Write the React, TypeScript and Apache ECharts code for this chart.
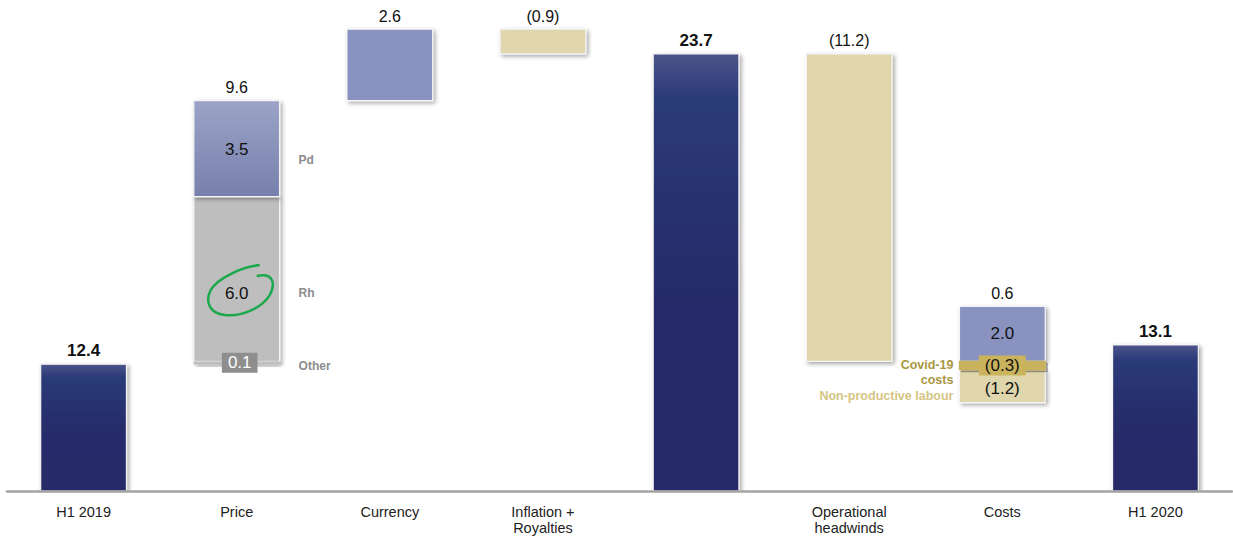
import React, { useEffect, useRef } from "react";
import * as echarts from "echarts";

// EBITDA bridge, H1 2019 -> H1 2020
const categories = [
  "H1 2019",
  "Price",
  "Currency",
  "Inflation +\nRoyalties",
  "",
  "Operational\nheadwinds",
  "Costs",
  "H1 2020",
];
const columnValues = [12.4, 9.6, 2.6, -0.9, 23.7, -11.2, 0.6, 13.1];
const totalColumns = [0, 4, 7];

const openingValue = 12.4;
const priceParts = [
  { name: "Other", value: 0.1 },
  { name: "Rh", value: 6.0 },
  { name: "Pd", value: 3.5 },
];
const currencyImpact = 2.6;
const inflationImpact = -0.9;
const subtotalValue = 23.7;
const operationalImpact = -11.2;
const costSavings = 2.0;
const costNegatives = [
  { name: "Covid-19\ncosts", value: -0.3 },
  { name: "Non-productive labour", value: -1.2 },
];
const closingValue = 13.1;

// Truncated value axis
const Y_MIN = 7.78;
const Y_MAX = 25.3;

const FONT = "'Liberation Sans', Arial, Helvetica, sans-serif";

const fmt = (v: number) =>
  v < 0 ? `(${Math.abs(v).toFixed(1)})` : v.toFixed(1);

type Seg = {
  cat: number;
  from: number;
  to: number;
  kind: "total" | "up" | "down" | "rh" | "pd" | "covid";
  inner?: string;
  innerChip?: string;
  innerDy?: number;
  side?: string;
  sideSide?: "left" | "right";
  sideColor?: string;
  sideDy?: number;
  ring?: boolean;
};

const segs: Seg[] = [];
segs.push({ cat: 0, from: Y_MIN, to: openingValue, kind: "total" });

let level = openingValue;
{
  const [other, rh, pd] = priceParts;
  const rhStart = level + other.value;
  segs.push({
    cat: 1, from: rhStart, to: rhStart + rh.value, kind: "rh",
    inner: rh.value.toFixed(1), innerDy: 14, side: rh.name, sideSide: "right",
    sideColor: "#8c8c8c", sideDy: 14, ring: true,
  });
  segs.push({
    cat: 1, from: level, to: rhStart, kind: "rh",
    inner: other.value.toFixed(1), innerChip: "#8e8e8e", side: other.name,
    sideSide: "right", sideColor: "#8c8c8c", sideDy: 3,
  });
  const pdStart = rhStart + rh.value;
  segs.push({
    cat: 1, from: pdStart, to: pdStart + pd.value, kind: "pd",
    inner: pd.value.toFixed(1), innerDy: 1, side: pd.name, sideSide: "right",
    sideColor: "#8c8c8c", sideDy: 11,
  });
  level = pdStart + pd.value;
}
segs.push({ cat: 2, from: level, to: level + currencyImpact, kind: "up" });
level += currencyImpact;
segs.push({ cat: 3, from: level, to: level + inflationImpact, kind: "down" });
level += inflationImpact;
segs.push({ cat: 4, from: Y_MIN, to: subtotalValue, kind: "total" });
level = subtotalValue;
segs.push({ cat: 5, from: level, to: level + operationalImpact, kind: "down" });
level += operationalImpact;
{
  segs.push({
    cat: 6, from: level, to: level + costSavings, kind: "up",
    inner: costSavings.toFixed(1), innerDy: 0,
  });
  const [covid, labour] = costNegatives;
  const labourStart = level + covid.value;
  segs.push({
    cat: 6, from: labourStart, to: labourStart + labour.value, kind: "down",
    inner: fmt(labour.value), innerDy: 2, side: labour.name, sideSide: "left",
    sideColor: "#d5c583", sideDy: 10,
  });
  segs.push({
    cat: 6, from: level, to: labourStart, kind: "covid",
    inner: fmt(covid.value), innerChip: "#c9b35d", side: covid.name,
    sideSide: "left", sideColor: "#a9973f", sideDy: 7,
  });
}
segs.push({ cat: 7, from: Y_MIN, to: closingValue, kind: "total" });

const columnTops = categories.map((_, i) =>
  Math.max(...segs.filter((s) => s.cat === i).map((s) => Math.max(s.from, s.to)))
);

const grad = (stops: [number, string][]) =>
  new echarts.graphic.LinearGradient(
    0, 0, 0, 1,
    stops.map(([offset, color]) => ({ offset, color }))
  );

const fillFor = (kind: Seg["kind"]) => {
  switch (kind) {
    case "total":
      return grad([
        [0, "#4c5489"],
        [0.1, "#2b3b7a"],
        [0.45, "#262d6c"],
        [1, "#252a66"],
      ]);
    case "pd":
      return grad([
        [0, "#9ba3c7"],
        [1, "#7780ac"],
      ]);
    case "up":
      return "#8a93bf";
    case "down":
      return "#dfd6ad";
    case "rh":
      return "#bebebe";
    case "covid":
      return "#c9b25c";
  }
};

const RING_PATH =
  "M23,-28 C5,-26 -19,-15 -26,-3 C-32,9 -27,20 -12,22 C5,24 25,15 33,2 C39,-9 37,-21 20,-17";

export default function App() {
  const ref = useRef<HTMLDivElement>(null);

  useEffect(() => {
    if (!ref.current) return;
    const chart = echarts.init(ref.current, null, { renderer: "svg" });

    const blockRender = (params: any, api: any) => {
      const s = segs[params.dataIndex];
      const p1 = api.coord([api.value(0), api.value(1)]);
      const p2 = api.coord([api.value(0), api.value(2)]);
      const bw = api.size([1, 0])[0] * 0.56;
      const top = Math.min(p1[1], p2[1]);
      const h = Math.abs(p1[1] - p2[1]);
      const isChipOnly = s.kind === "rh" && s.innerChip;
      return {
        type: "rect",
        shape: { x: p1[0] - bw / 2, y: top, width: bw, height: h },
        style: {
          fill: fillFor(s.kind),
          stroke: s.kind === "covid" ? "#c9b25c" : "#f4f4f4",
          lineWidth: isChipOnly ? 0 : 1.2,
          shadowBlur: s.kind === "covid" ? 0 : 4,
          shadowOffsetX: 2,
          shadowOffsetY: 2,
          shadowColor: "rgba(0,0,0,0.35)",
        },
      };
    };

    const labelRender = (params: any, api: any) => {
      const s = segs[params.dataIndex];
      const p1 = api.coord([api.value(0), api.value(1)]);
      const p2 = api.coord([api.value(0), api.value(2)]);
      const bw = api.size([1, 0])[0] * 0.56;
      const cx = p1[0];
      const cy = (p1[1] + p2[1]) / 2;
      const children: any[] = [];
      const chipOnGray = !!s.innerChip && s.kind === "rh";
      if (s.inner) {
        children.push({
          type: "text",
          x: cx + (chipOnGray ? 3 : 0),
          y: cy + (s.innerDy || 0),
          style: {
            text: s.inner,
            fill: chipOnGray ? "#ffffff" : "#111111",
            fontSize: 17,
            fontFamily: FONT,
            align: "center",
            verticalAlign: "middle",
            backgroundColor: s.innerChip,
            padding: s.innerChip ? (chipOnGray ? [2, 6, 1, 6] : [2, 6, 1, 6]) : 0,
          },
        });
      }
      if (s.ring) {
        children.push({
          type: "group",
          x: cx,
          y: cy + (s.innerDy || 0),
          children: [
            {
              type: "path",
              shape: { pathData: RING_PATH },
              style: { fill: "none", stroke: "#1ca84c", lineWidth: 2.5 },
            },
          ],
        });
      }
      if (s.side) {
        const right = s.sideSide === "right";
        children.push({
          type: "text",
          x: right ? cx + bw / 2 + 19 : cx - bw / 2 - 6,
          y: cy + (s.sideDy || 0),
          style: {
            text: s.side,
            fill: s.sideColor,
            fontSize: right ? 12 : 12.5,
            fontWeight: "bold",
            fontFamily: FONT,
            align: right ? "left" : "right",
            verticalAlign: "middle",
            lineHeight: 15,
          },
        });
      }
      return { type: "group", children };
    };

    const topRender = (params: any, api: any) => {
      const i = params.dataIndex;
      const p = api.coord([api.value(0), api.value(1)]);
      const bold = totalColumns.includes(i);
      return {
        type: "text",
        x: p[0],
        y: p[1] - 5,
        style: {
          text: fmt(columnValues[i]),
          fill: "#111111",
          fontSize: bold ? 17 : 16,
          fontWeight: bold ? "bold" : "normal",
          fontFamily: FONT,
          align: "center",
          verticalAlign: "bottom",
        },
      };
    };

    chart.setOption({
      animation: false,
      grid: { left: 7, right: 1, top: 10, bottom: 49, containLabel: false },
      xAxis: {
        type: "category",
        data: categories,
        boundaryGap: true,
        axisTick: { show: false },
        axisLine: { lineStyle: { color: "#a3a3a3", width: 2.5 } },
        axisLabel: {
          interval: 0,
          margin: 13,
          fontSize: 14.5,
          lineHeight: 16,
          color: "#222222",
          fontFamily: FONT,
        },
        z: 5,
      },
      yAxis: { type: "value", min: Y_MIN, max: Y_MAX, show: false, splitLine: { show: false } },
      series: [
        {
          type: "custom",
          name: "blocks",
          renderItem: blockRender,
          data: segs.map((s) => [s.cat, s.from, s.to]),
          encode: { x: 0, y: [1, 2] },
          clip: true,
          z: 2,
        },
        {
          type: "custom",
          name: "segment labels",
          renderItem: labelRender,
          data: segs.map((s) => [s.cat, s.from, s.to]),
          encode: { x: 0, y: [1, 2] },
          z: 3,
        },
        {
          type: "custom",
          name: "column labels",
          renderItem: topRender,
          data: columnTops.map((v, i) => [i, v]),
          encode: { x: 0, y: 1 },
          z: 3,
        },
      ],
    });

    return () => chart.dispose();
  }, []);

  return (
    <div
      ref={ref}
      style={{ position: "absolute", left: 0, top: 0, width: 1233, height: 540, background: "#ffffff" }}
    />
  );
}
